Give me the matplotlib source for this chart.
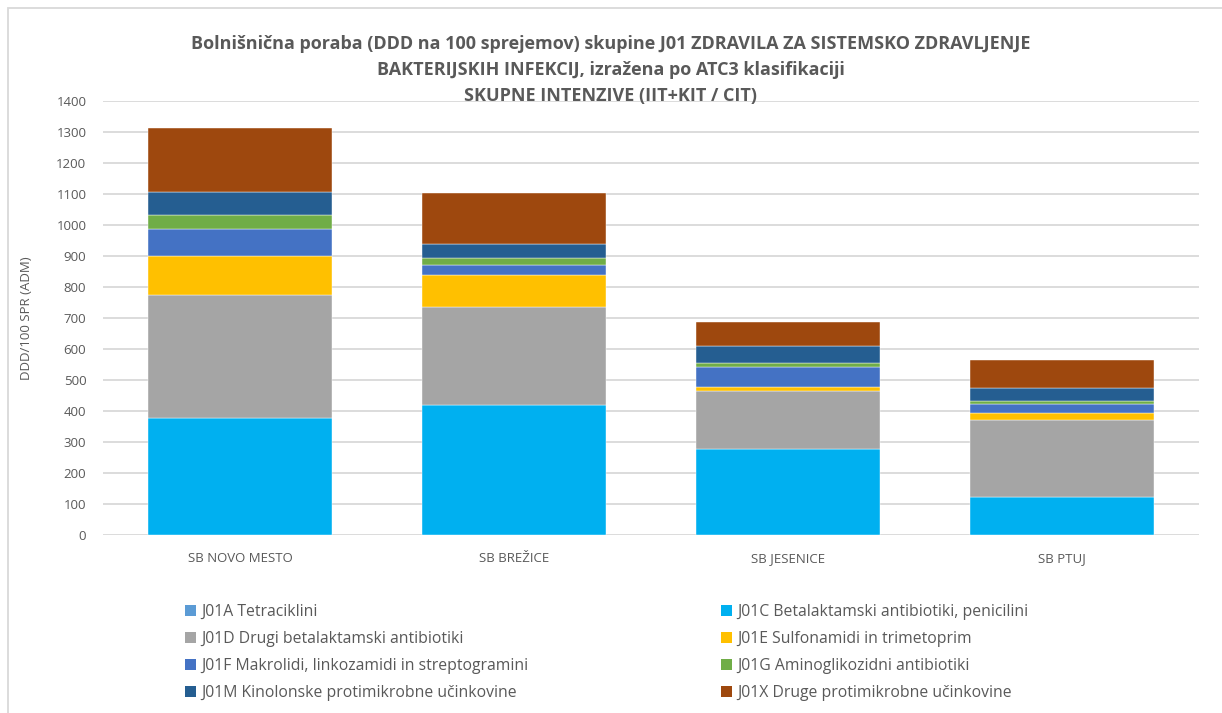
import numpy as np
import matplotlib.pyplot as plt
from matplotlib.patches import Rectangle, Patch

plt.rcParams['font.family'] = ['Open Sans', 'DejaVu Sans']

hospitals = ['SB NOVO MESTO', 'SB BREŽICE', 'SB JESENICE', 'SB PTUJ']

# DDD/100 sprejemov po ATC3 skupinah
j01a = [1, 1, 0, 1]
j01c = [376, 418, 278, 120]
j01d = [398, 315, 186, 251]
j01e = [126, 106, 13, 22]
j01f = [86, 31, 66, 30]
j01g = [45, 21, 12, 8]
j01m = [73, 48, 55, 41]
j01x = [208, 164, 76, 93]

series = [j01a, j01c, j01d, j01e, j01f, j01g, j01m, j01x]
names = ['J01A Tetraciklini',
         'J01C Betalaktamski antibiotiki, penicilini',
         'J01D Drugi betalaktamski antibiotiki',
         'J01E Sulfonamidi in trimetoprim',
         'J01F Makrolidi, linkozamidi in streptogramini',
         'J01G Aminoglikozidni antibiotiki',
         'J01M Kinolonske protimikrobne učinkovine',
         'J01X Druge protimikrobne učinkovine']
colors = ['#5B9BD5', '#00B0F0', '#A5A5A5', '#FFC000',
          '#4472C4', '#70AD47', '#255E91', '#9E480E']

txt = '#595959'

fig = plt.figure(figsize=(12.22, 7.13), dpi=100)
ax = fig.add_axes([103 / 1222, 1 - 535 / 713, 1096 / 1222, 434 / 713])

# chart frame (Excel border)
fig.patches.append(Rectangle((8 / 1222, -0.01), 1.2, 1 - 8 / 713 + 0.01,
                             transform=fig.transFigure, fill=False,
                             edgecolor='#D9D9D9', linewidth=1.3))

x = np.arange(len(hospitals))
bottom = np.zeros(len(hospitals))
for vals, c in zip(series, colors):
    ax.bar(x, vals, width=0.668, bottom=bottom, color=c, zorder=3,
           edgecolor='white', linewidth=0.3)
    bottom += np.array(vals)

ax.set_xlim(-0.5, 3.5)
ax.set_ylim(0, 1400)
ax.set_yticks(np.arange(0, 1401, 100))
ax.yaxis.grid(True, color='#D9D9D9', linewidth=1.3, zorder=0)
ax.set_axisbelow(True)
for s in ax.spines.values():
    s.set_visible(False)
ax.tick_params(axis='both', length=0, colors=txt, labelsize=9.5)
ax.tick_params(axis='y', pad=12)
ax.tick_params(axis='x', pad=12)
ax.set_xticks(x)
ax.set_xticklabels(hospitals)
ax.set_ylabel('DDD/100 SPR (ADM)', color=txt, fontsize=9.5)
ax.yaxis.set_label_coords(-70 / 1096, 0.5)

fig.text(0.5, 1 - 70 / 713,
         'Bolnišnična poraba (DDD na 100 sprejemov) skupine J01 ZDRAVILA ZA SISTEMSKO ZDRAVLJENJE\n'
         'BAKTERIJSKIH INFEKCIJ, izražena po ATC3 klasifikaciji\n'
         'SKUPNE INTENZIVE (IIT+KIT / CIT)',
         ha='center', va='center', fontsize=13, fontweight='bold',
         color=txt, linespacing=1.6)

# legend in two columns, row-major order as in the original
handles = [Patch(facecolor=c, edgecolor='none') for c in colors]
for col, x0 in ((0, 171 / 1222), (1, 707 / 1222)):
    idx = list(range(col, 8, 2))
    fig.legend([handles[i] for i in idx], [names[i] for i in idx],
               loc='upper left', bbox_to_anchor=(x0, 1 - 590 / 713),
               frameon=False, fontsize=11.3, labelcolor=txt,
               handlelength=0.7, handleheight=0.7, handletextpad=0.35,
               labelspacing=0.7)

fig.savefig('out.png', dpi=100)
